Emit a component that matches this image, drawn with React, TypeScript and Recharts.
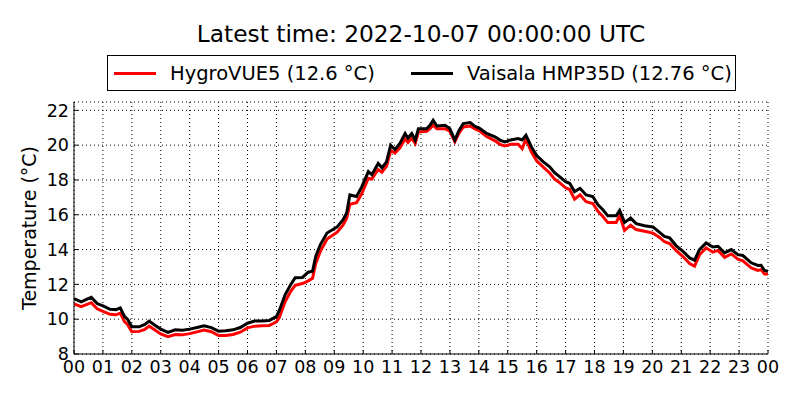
import React from 'react';
import { LineChart, Line, XAxis, YAxis, CartesianGrid } from 'recharts';

// hours since 2022-10-06 00:00 UTC
const hours = [
  0, 0.25, 0.45, 0.6, 0.8, 1.0, 1.25, 1.45, 1.6, 1.75,
  1.85, 2.0, 2.25, 2.45, 2.6, 2.8, 3.0, 3.25, 3.5, 3.75,
  4.0, 4.25, 4.5, 4.75, 5.0, 5.25, 5.5, 5.75, 6.0, 6.25,
  6.5, 6.75, 7.0, 7.1, 7.3, 7.5, 7.65, 7.9, 8.1, 8.25,
  8.36, 8.52, 8.75, 9.1, 9.3, 9.43, 9.54, 9.77, 9.95, 10.18,
  10.3, 10.52, 10.65, 10.81, 10.95, 11.1, 11.27, 11.45, 11.55, 11.68,
  11.8, 11.91, 12.2, 12.31, 12.42, 12.55, 12.83, 13.0, 13.17, 13.3,
  13.46, 13.7, 13.85, 14.04, 14.27, 14.56, 14.73, 14.9, 15.1, 15.36,
  15.5, 15.63, 15.82, 16.0, 16.22, 16.45, 16.62, 16.79, 17.0, 17.14,
  17.31, 17.5, 17.71, 17.94, 18.12, 18.29, 18.46, 18.75, 18.87, 19.04,
  19.25, 19.44, 19.73, 20.02, 20.25, 20.42, 20.6, 20.82, 21.06, 21.29,
  21.46, 21.63, 21.86, 22.09, 22.27, 22.5, 22.73, 22.96, 23.13, 23.42,
  23.65, 23.76, 23.88, 24.0,
];

const hygroVUE5 = [
  10.88, 10.72, 10.85, 10.95, 10.6, 10.45, 10.28, 10.25, 10.35, 9.85,
  9.7, 9.28, 9.3, 9.42, 9.6, 9.38, 9.15, 9.0, 9.12, 9.1,
  9.17, 9.27, 9.38, 9.28, 9.06, 9.07, 9.12, 9.25, 9.5, 9.6,
  9.62, 9.63, 9.85, 10.1, 11.0, 11.62, 11.95, 12.05, 12.2, 12.35,
  13.2, 13.9, 14.6, 15.0, 15.4, 15.8, 16.6, 16.7, 17.2, 18.1,
  18.05, 18.6, 18.45, 18.8, 19.7, 19.55, 19.85, 20.35, 20.15, 20.4,
  20.1, 20.75, 20.8, 20.95, 21.15, 20.95, 20.95, 20.8, 20.2, 20.65,
  21.05, 21.1, 20.95, 20.8, 20.5, 20.25, 20.05, 19.95, 20.05, 20.05,
  19.8, 20.35, 19.6, 19.1, 18.75, 18.4, 18.05, 17.85, 17.55, 17.45,
  16.9, 17.15, 16.75, 16.65, 16.2, 15.9, 15.55, 15.56, 15.95, 15.1,
  15.4, 15.15, 15.05, 14.95, 14.7, 14.45, 14.35, 13.95, 13.6, 13.2,
  13.05, 13.7, 14.1, 13.85, 13.95, 13.55, 13.75, 13.45, 13.35, 12.95,
  12.8, 12.85, 12.6, 12.6,
];

const hmp35d = [
  11.18, 11.0, 11.15, 11.26, 10.9, 10.76, 10.57, 10.55, 10.65, 10.15,
  10.0, 9.56, 9.56, 9.7, 9.89, 9.65, 9.43, 9.24, 9.39, 9.37,
  9.43, 9.52, 9.62, 9.52, 9.31, 9.33, 9.39, 9.52, 9.77, 9.89,
  9.89, 9.93, 10.15, 10.5, 11.4, 12.0, 12.38, 12.4, 12.7, 12.76,
  13.62, 14.29, 14.95, 15.3, 15.7, 16.1, 17.14, 17.05, 17.6, 18.48,
  18.3, 18.95, 18.7, 19.05, 20.0, 19.75, 20.1, 20.67, 20.4, 20.67,
  20.29, 20.95, 20.95, 21.14, 21.43, 21.1, 21.14, 20.95, 20.29, 20.8,
  21.24, 21.3, 21.1, 20.95, 20.67, 20.48, 20.29, 20.19, 20.3, 20.38,
  20.3, 20.57, 19.9, 19.4, 19.05, 18.76, 18.42, 18.19, 17.9, 17.81,
  17.33, 17.52, 17.14, 17.05, 16.57, 16.29, 15.94, 15.94, 16.25, 15.56,
  15.81, 15.49, 15.37, 15.3, 14.99, 14.76, 14.67, 14.23, 13.9, 13.52,
  13.39, 14.0, 14.38, 14.15, 14.19, 13.81, 14.0, 13.71, 13.66, 13.24,
  13.09, 13.1, 12.8, 12.76,
];

const hourTicks = [0, 1, 2, 3, 4, 5, 6, 7, 8, 9, 10, 11, 12, 13, 14, 15, 16, 17, 18, 19, 20, 21, 22, 23, 24];
const tempTicks = [8, 10, 12, 14, 16, 18, 20, 22];

const data = hours.map((t, i) => ({ t, hygro: hygroVUE5[i], hmp: hmp35d[i] }));

const font = '"DejaVu Sans", sans-serif';
const tickStyle = { fontSize: 17.5, fill: '#000', fontFamily: font };
const hourLabel = (h: number) => String(h % 24).padStart(2, '0');

const series = [
  { key: 'hygro', name: 'HygroVUE5', color: '#ff0000', last: hygroVUE5[hygroVUE5.length - 1] },
  { key: 'hmp', name: 'Vaisala HMP35D', color: '#000000', last: hmp35d[hmp35d.length - 1] },
];

function YLabel(props: any) {
  const { viewBox } = props;
  const x = viewBox.x + 28.5;
  const y = viewBox.y + viewBox.height / 2;
  return (
    <text x={x} y={y} transform={`rotate(-90, ${x}, ${y})`} textAnchor="middle" dominantBaseline="central"
      fontSize={19} fontFamily={font} fill="#000">
      Temperature (°C)
    </text>
  );
}

export default function App() {
  return (
    <div style={{ position: 'absolute', left: 0, top: 0, width: 800, height: 400, background: '#fff', fontFamily: font }}>
      <div style={{ position: 'absolute', left: 0, top: 20, width: 842, textAlign: 'center', fontSize: 23.3, lineHeight: '28px' }}>
        Latest time: 2022-10-07 00:00:00 UTC
      </div>
      <div style={{ position: 'absolute', left: 107, top: 55, width: 627, height: 34, border: '1px solid #000', background: '#fff' }}>
        {series.map((s, i) => (
          <div key={s.key} style={{ position: 'absolute', left: i === 0 ? 6 : 303, top: 0, height: 34, display: 'flex', alignItems: 'center' }}>
            <span style={{ display: 'inline-block', width: 42, height: 3, background: s.color, marginRight: 14 }} />
            <span style={{ fontSize: 19.5, whiteSpace: 'nowrap' }}>{`${s.name} (${s.last} °C)`}</span>
          </div>
        ))}
      </div>
      <LineChart width={800} height={400} data={data} margin={{ top: 102, right: 32, bottom: 0, left: 0 }}>
        <CartesianGrid stroke="#000" strokeDasharray="1 3" strokeWidth={1} />
        <XAxis dataKey="t" type="number" domain={[0, 24]} ticks={hourTicks} interval={0}
          tickFormatter={hourLabel} height={46} tickSize={-4} tickMargin={11}
          stroke="#000" tick={tickStyle} allowDataOverflow />
        <XAxis xAxisId="top" dataKey="t" type="number" domain={[0, 24]} ticks={hourTicks} interval={0}
          orientation="top" height={0} tickSize={-4} tick={false} stroke="#000" allowDataOverflow />
        <YAxis type="number" domain={[8, 22.48]} ticks={tempTicks} interval={0} width={74}
          tickSize={-4} tickMargin={9} stroke="#000" tick={tickStyle} allowDataOverflow label={<YLabel />} />
        <YAxis yAxisId="right" type="number" domain={[8, 22.48]} ticks={tempTicks} interval={0}
          orientation="right" width={0} tickSize={-4} tick={false} stroke="#000" allowDataOverflow />
        {series.map((s) => (
          <Line key={s.key} dataKey={s.key} name={s.name} type="linear" stroke={s.color} strokeWidth={3}
            dot={false} isAnimationActive={false} />
        ))}
      </LineChart>
    </div>
  );
}
